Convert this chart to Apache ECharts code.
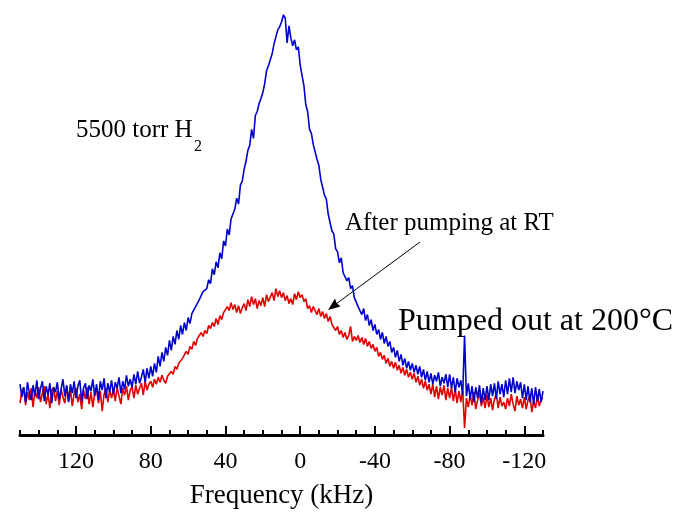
<!DOCTYPE html>
<html>
<head>
<meta charset="utf-8">
<script src="https://cdn.jsdelivr.net/npm/echarts@6/dist/echarts.min.js"></script>
<style>
  html, body { margin: 0; padding: 0; background: #fff; }
  #chart { width: 676px; height: 514px; }
</style>
</head>
<body>
<div id="chart"></div>
<script>
// spectra sampled every 1 kHz, from 150 kHz down to -130 kHz
const freqStart = 150;
const freqStep = -1;

// 5500 torr H2 (blue)
const h2Signal = [
  12, -1, 9, -6, 14, 3, -4, 11, 0, 16,
  -3, 8, 15, -5, 10, 1, 13, -7, 9, 4,
  14, -4, 7, 17, 0, 11, -6, 12, 3, 15,
  -2, 10, 16, -5, 8, 13, -3, 11, 5, 17,
  0, 12, -4, 15, 6, 18, -2, 13, 4, 16,
  2, 14, 8, 19, 3, 15, 7, 21, 10, 17,
  9, 22, 12, 25, 13, 19, 27, 14, 28, 18,
  30, 20, 33, 24, 40, 30, 44, 35, 49, 41,
  56, 46, 60, 52, 66, 57, 71, 62, 74, 66,
  79, 73, 83, 81, 90, 88, 97, 95, 105, 103,
  108, 117, 113, 128, 122, 135, 129, 144, 138, 156,
  151, 168, 162, 178, 176, 188, 199, 193, 212, 216,
  228, 236, 247, 252, 268, 259, 282, 286, 294, 299,
  305, 314, 327, 332, 334, 344, 354, 356, 368, 371,
  376, 383, 380, 355, 372, 360, 352, 358, 348, 351,
  333, 322, 312, 293, 286, 268, 264, 253, 251, 238,
  232, 218, 216, 202, 198, 183, 181, 166, 163, 148,
  145, 134, 139, 124, 126, 116, 119, 108, 111, 99,
  101, 90, 92, 82, 88, 76, 82, 71, 77, 66,
  72, 62, 67, 57, 64, 53, 60, 50, 55, 44,
  49, 39, 46, 35, 42, 31, 38, 28, 35, 26,
  33, 24, 31, 22, 30, 19, 27, 16, 25, 14,
  23, 12, 21, 15, 24, 10, 19, 13, 22, 9,
  22, 8, 19, 4, 18, 9, 16, 1, 61, 0,
  13, -3, 10, -6, 9, -2, 11, -7, 8, -4,
  10, -4, 12, 0, 13, -3, 15, 2, 12, -1,
  16, 2, 18, 4, 19, 3, 15, 6, 14, -2,
  12, -4, 10, -6, 8, -8, 9, -5, 7, -6,
  5
];

// after pumping (red)
const pumpedSignal = [
  -7, 5, 9, -9, 4, -4, 8, -11, 6, -2,
  9, -6, 3, 10, -8, 2, -12, 6, 9, -5,
  5, -9, 7, -1, -7, 10, -5, 6, -10, 3,
  8, -6, 2, -13, 6, -3, 9, -8, 4, -11,
  3, 7, -7, 5, -15, 2, 8, -6, 6, -2,
  7, -5, 9, 0, -8, 8, 1, 10, -4, 6,
  9, -2, 11, 2, 8, 13, 1, 15, 6, 12,
  15, 9, 17, 12, 19, 14, 21, 16, 13, 20,
  18, 25, 22, 30, 27, 33, 31, 38, 36, 45,
  42, 50, 47, 55, 51, 58, 56, 64, 60, 66,
  63, 71, 68, 74, 70, 78, 72, 81, 77, 84,
  82, 90, 86, 94, 87, 92, 84, 91, 83, 89,
  93, 86, 97, 90, 100, 92, 98, 88, 96, 91,
  99, 90, 102, 95, 97, 104, 96, 108, 100, 106,
  99, 104, 96, 101, 93, 98, 92, 103, 97, 105,
  99, 102, 95, 98, 88, 91, 84, 90, 86, 82,
  88, 80, 85, 78, 83, 75, 80, 72, 74, 66,
  70, 62, 66, 59, 64, 57, 61, 70, 55, 60,
  56, 61, 54, 59, 52, 58, 50, 55, 48, 52,
  45, 49, 40, 44, 37, 41, 33, 38, 30, 35,
  28, 34, 26, 31, 23, 29, 21, 27, 19, 24,
  17, 23, 14, 20, 11, 17, 8, 15, 6, 12,
  2, 12, -1, 10, -3, 9, 1, 11, -4, 8,
  -2, 9, -5, 7, -7, 5, -6, 6, -32, -2,
  -11, 1, -9, 4, -13, -4, 3, -10, -1, -12,
  1, -11, -2, -14, -3, 2, -12, -1, -10, -6,
  -13, -2, -10, 2, -8, -15, 0, -9, -3, -12,
  -1, -13, -4, 1, -16, -5, -12, 0, -10, -3,
  -2
];

const majorTicks = [120, 80, 40, 0, -40, -80, -120];
const minorTicks = [150, 140, 130, 110, 100, 90, 70, 60, 50, 30, 20, 10,
  -10, -20, -30, -50, -60, -70, -90, -100, -110, -130];

function toPairs(values) {
  return values.map((v, i) => [freqStart + i * freqStep, v]);
}

const serif = 'Liberation Serif, Times New Roman, serif';

const chart = echarts.init(document.getElementById('chart'), null, { renderer: 'canvas' });

chart.setOption({
  backgroundColor: '#fff',
  animation: false,
  grid: { left: 20, right: 133, top: 10, bottom: 77 },
  xAxis: [
    {
      type: 'value',
      inverse: true,
      min: -130,
      max: 150,
      splitLine: { show: false },
      axisLine: { show: true, onZero: false, lineStyle: { color: '#000', width: 3 } },
      axisTick: { show: true, inside: true, length: 9, customValues: majorTicks,
        lineStyle: { color: '#000', width: 2 } },
      axisLabel: { customValues: majorTicks, margin: 15, color: '#000',
        fontFamily: serif, fontSize: 24 },
      name: 'Frequency (kHz)',
      nameLocation: 'middle',
      nameGap: 47,
      nameTextStyle: { color: '#000', fontFamily: serif, fontSize: 27 }
    },
    {
      type: 'value',
      inverse: true,
      min: -130,
      max: 150,
      position: 'bottom',
      splitLine: { show: false },
      axisLine: { show: false, onZero: false },
      axisTick: { show: true, inside: true, length: 5, customValues: minorTicks,
        lineStyle: { color: '#000', width: 2 } },
      axisLabel: { show: false }
    }
  ],
  yAxis: {
    type: 'value',
    min: -39,
    max: 388,
    show: false
  },
  series: [
    {
      name: 'After pumping',
      type: 'line',
      data: toPairs(pumpedSignal),
      showSymbol: false,
      symbol: 'none',
      lineStyle: { color: '#e00000', width: 1.6 },
      z: 2
    },
    {
      name: '5500 torr H2',
      type: 'line',
      data: toPairs(h2Signal),
      showSymbol: false,
      symbol: 'none',
      lineStyle: { color: '#0000cc', width: 1.6 },
      z: 3
    }
  ],
  graphic: [
    { type: 'text', left: 76, top: 118,
      style: { text: '5500 torr H', fill: '#000', font: '25px ' + serif } },
    { type: 'text', left: 194, top: 139,
      style: { text: '2', fill: '#000', font: '16px ' + serif } },
    { type: 'text', left: 345, top: 211,
      style: { text: 'After pumping at RT', fill: '#000', font: '25px ' + serif } },
    { type: 'text', left: 398, top: 306,
      style: { text: 'Pumped out at 200\u00b0C', fill: '#000', font: '32px ' + serif } },
    // arrow pointing at the red curve
    { type: 'line', shape: { x1: 420, y1: 242, x2: 336, y2: 304 },
      style: { stroke: '#000', lineWidth: 1 } },
    { type: 'polygon',
      shape: { points: [[328, 310], [340.5, 306.5], [336.5, 303], [335, 298.5]] },
      style: { fill: '#000' } }
  ]
});
</script>
</body>
</html>
